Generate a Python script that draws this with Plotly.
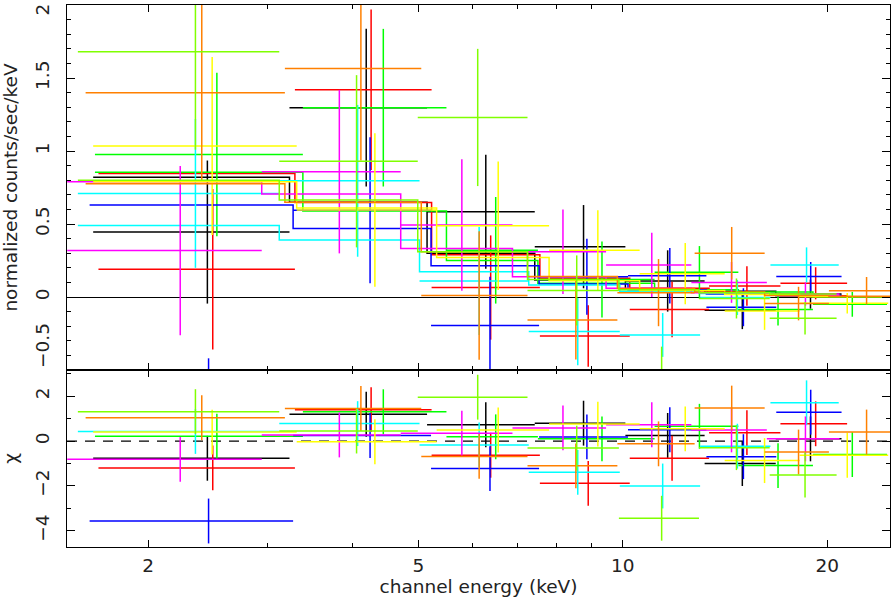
import numpy as np
import plotly.graph_objects as go
from plotly.subplots import make_subplots

# ---- data (energies in keV, rates in counts/s/keV) ----
black_edges = [1.66, 3.23, 5.15, 7.42, 10.09, 13.2, 16.8, 21.0]
black_rate = [0.445, 1.297, 0.584, 0.345, 0.11, -0.09, 0.02]
black_err = [0.49, 0.54, 0.39, 0.285, 0.21, 0.13, 0.10]
black_model = [0.82, 0.65, 0.30, 0.117, 0.057, 0.04, 0.01]

red_edges = [1.69, 3.29, 5.23, 7.55, 10.24, 13.4, 17.07, 21.4]
red_rate = [0.19, 1.42, 0.065, -0.267, -0.085, 0.075, 0.094]
red_err = [0.55, 0.55, 0.357, 0.21, 0.19, 0.135, 0.11]
red_model = [0.847, 0.648, 0.29, 0.128, 0.06, 0.024, 0.009]

green_edges = [1.67, 3.38, 5.50, 7.50, 11.14, 14.8, 19.06, 24.5]
green_rate = [0.977, 1.297, 0.32, 0.12, 0.169, -0.085, -0.05]
green_err = [0.56, 0.54, 0.365, 0.26, 0.18, 0.11, 0.085]
green_model = [0.854, 0.59, 0.25, 0.094, 0.05, 0.035, 0.001]

blue_edges = [1.64, 3.27, 5.22, 7.53, 10.18, 13.28, 16.83, 21.0]
blue_rate = [-0.83, 0.595, -0.196, 0.139, 0.146, -0.07, 0.14]
blue_err = [0.41, 0.50, 0.335, 0.26, 0.19, 0.13, 0.10]
blue_model = [0.63, 0.47, 0.214, 0.09, 0.05, 0.02, 0.011]

cyan_edges = [1.576, 3.12, 5.02, 7.27, 9.9, 13.0, 16.5, 20.8]
cyan_rate = [0.71, 0.796, 0.11, -0.237, -0.26, -0.003, 0.22]
cyan_err = [0.51, 0.52, 0.37, 0.23, 0.15, 0.12, 0.12]
cyan_model = [0.49, 0.39, 0.173, 0.083, 0.04, 0.024, 0.015]

magenta_edges = [1.52, 2.94, 4.71, 6.88, 9.45, 12.62, 16.3, 20.86]
magenta_rate = [0.318, 0.859, 0.493, 0.31, 0.22, 0.10, 0.02]
magenta_err = [0.58, 0.56, 0.45, 0.29, 0.22, 0.14, 0.08]
magenta_model = [0.79, 0.705, 0.333, 0.139, 0.06, 0.03, 0.012]

yellow_edges = [1.66, 3.31, 5.32, 7.79, 10.59, 14.13, 18.22, 24.6]
yellow_rate = [1.035, 0.596, 0.488, 0.32, 0.16, -0.095, -0.043]
yellow_err = [0.61, 0.526, 0.44, 0.274, 0.21, 0.13, 0.07]
yellow_model = [0.79, 0.61, 0.27, 0.112, 0.045, 0.018, 0.001]

orange_edges = [1.618, 3.18, 5.05, 7.24, 9.82, 12.76, 16.18, 20.12, 25.6]
orange_rate = [1.40, 1.566, 0.01, -0.158, 0.03, 0.30, -0.045, 0.043]
orange_err = [0.60, 0.63, 0.44, 0.27, 0.23, 0.18, 0.115, 0.094]
orange_model = [0.776, 0.65, 0.31, 0.14, 0.058, 0.035, 0.011, 0.005]

chartreuse_edges = [1.576, 3.12, 4.99, 7.24, 9.87, 12.95, 16.46, 20.65]
chartreuse_rate = [1.68, 0.93, 1.23, 0.045, -0.50, -0.01, -0.146]
chartreuse_err = [0.67, 0.59, 0.47, 0.24, 0.16, 0.137, 0.11]
chartreuse_model = [0.80, 0.665, 0.31, 0.12, 0.05, 0.03, 0.02]

x_ticks = [2, 5, 10, 20]
x_minor_ticks = [3, 4, 6, 7, 8, 9]
top_ticks = [-0.5, 0, 0.5, 1, 1.5, 2]
chi_ticks = [-4, -2, 0, 2]

spectra = [
    (black_edges, black_rate, black_err, black_model, "#000000"),
    (red_edges, red_rate, red_err, red_model, "#ff0000"),
    (green_edges, green_rate, green_err, green_model, "#00ff00"),
    (blue_edges, blue_rate, blue_err, blue_model, "#0000ff"),
    (cyan_edges, cyan_rate, cyan_err, cyan_model, "#00ffff"),
    (magenta_edges, magenta_rate, magenta_err, magenta_model, "#ff00ff"),
    (yellow_edges, yellow_rate, yellow_err, yellow_model, "#ffff00"),
    (orange_edges, orange_rate, orange_err, orange_model, "#ff8000"),
    (chartreuse_edges, chartreuse_rate, chartreuse_err, chartreuse_model, "#80ff00"),
]

H_TOP, H_BOT = 365, 177
fig = make_subplots(rows=2, cols=1, shared_xaxes=True, vertical_spacing=0,
                    row_heights=[H_TOP / (H_TOP + H_BOT), H_BOT / (H_TOP + H_BOT)])

LW = 1.5
for edges, rate, err, model, col in spectra:
    e = np.array(edges, dtype=float)
    lo, hi = e[:-1], e[1:]
    c = (lo + hi) / 2.0
    r = np.array(rate, dtype=float)
    s = np.array(err, dtype=float)
    m = np.array(model, dtype=float)
    chi = (r - m) / s
    ex = dict(type="data", symmetric=False, array=hi - c, arrayminus=c - lo,
              color=col, thickness=LW, width=0)
    fig.add_trace(go.Scatter(x=c, y=r, mode="markers",
                             marker=dict(size=1, color=col),
                             error_x=ex,
                             error_y=dict(type="data", array=s, color=col, thickness=LW, width=0),
                             showlegend=False, hoverinfo="skip"), row=1, col=1)
    fig.add_trace(go.Scatter(x=list(e), y=list(m) + [m[-1]], mode="lines",
                             line=dict(color=col, width=LW, shape="hv"),
                             showlegend=False, hoverinfo="skip"), row=1, col=1)
    fig.add_trace(go.Scatter(x=c, y=chi, mode="markers",
                             marker=dict(size=1, color=col),
                             error_x=ex,
                             error_y=dict(type="data", array=np.ones_like(chi), color=col,
                                          thickness=LW, width=0),
                             showlegend=False, hoverinfo="skip"), row=2, col=1)

FONT = dict(family="DejaVu Sans", size=18.5, color="#222222")
xcommon = dict(type="log", range=[np.log10(1.519), np.log10(24.75)],
               showline=True, linecolor="black", linewidth=1.2, mirror="ticks",
               ticks="inside", ticklen=7, tickcolor="black", tickwidth=1,
               tickvals=x_ticks, ticktext=[str(v) for v in x_ticks],
               showgrid=False, zeroline=False, automargin=False,
               minor=dict(ticks="inside", ticklen=4, tickcolor="black",
                          tickvals=x_minor_ticks, showgrid=False))
fig.update_xaxes(**xcommon)
fig.update_xaxes(showticklabels=False, row=1, col=1)
fig.update_xaxes(title=dict(text="channel energy (keV)", font=FONT, standoff=4),
                 tickfont=FONT, ticklabelstandoff=2, row=2, col=1)

ycommon = dict(showline=True, linecolor="black", linewidth=1.2, mirror="ticks",
               ticks="inside", ticklen=8, tickcolor="black", tickwidth=1,
               showgrid=False, tickangle=-90, tickfont=FONT, automargin=False,
               ticklabelstandoff=10, ticklabeloverflow="allow")
fig.update_yaxes(**ycommon)
# edge labels (-0.5 and 2) are drawn as annotations kept inside the panel, as in the original
fig.update_yaxes(range=[-0.5, 2.0005], tickvals=top_ticks,
                 ticktext=["", "0", "0.5", "1", "1.5", ""],
                 zeroline=True, zerolinecolor="black", zerolinewidth=1.2,
                 minor=dict(ticks="inside", ticklen=4, tickcolor="black",
                            tickvals=[round(-0.5 + 0.1 * i, 2) for i in range(26)]),
                 title=dict(text="normalized counts/sec/keV", font=FONT, standoff=12),
                 row=1, col=1)
fig.update_yaxes(range=[-4.72, 3.17], tickvals=chi_ticks,
                 ticktext=["\u22124", "\u22122", "0", "2"],
                 zeroline=False,
                 minor=dict(ticks="inside", ticklen=4, tickcolor="black", dtick=1),
                 title=dict(text="\u03c7", font=FONT, standoff=12),
                 row=2, col=1)

# dashed reference line at chi = 0
fig.add_shape(type="line", xref="x2 domain", x0=0, x1=1, yref="y2", y0=0, y1=0,
              line=dict(color="black", width=1.2, dash="10px,8px"), layer="below")
fig.add_annotation(text="\u22120.5", xref="paper", yref="y", x=0, y=top_ticks[0],
                   xanchor="right", yanchor="bottom", textangle=-90,
                   showarrow=False, font=FONT, xshift=-12)
fig.add_annotation(text="2", xref="paper", yref="y", x=0, y=top_ticks[-1],
                   xanchor="right", yanchor="top", textangle=-90,
                   showarrow=False, font=FONT, xshift=-12, yshift=3)

fig.update_layout(width=892, height=602, paper_bgcolor="white", plot_bgcolor="white",
                  margin=dict(l=67, r=2, t=5, b=55), font=FONT)
fig.write_html("out.html", config={"displayModeBar": False},
               post_script="document.body.style.margin='0';document.body.style.overflow='hidden';")
